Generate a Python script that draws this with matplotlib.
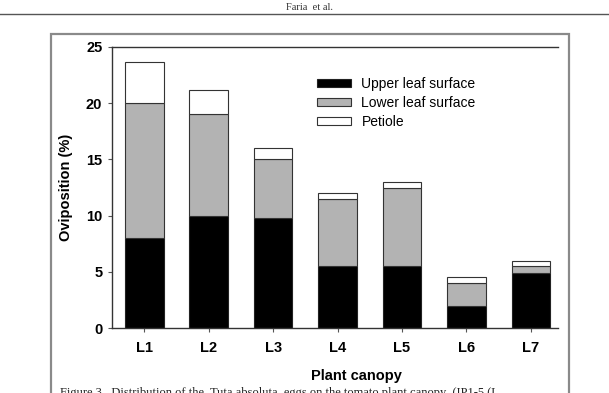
import matplotlib
matplotlib.use('Agg')
import matplotlib.pyplot as plt
from matplotlib.patches import Rectangle, Patch
from matplotlib.lines import Line2D
import numpy as np

# data (percent of eggs per canopy layer)
layers = ['L1', 'L2', 'L3', 'L4', 'L5', 'L6', 'L7']
upper_leaf = [8.0, 10.0, 9.8, 5.5, 5.5, 2.0, 4.9]
lower_leaf = [12.0, 9.0, 5.2, 6.0, 7.0, 2.0, 0.6]
petiole = [3.7, 2.2, 1.0, 0.5, 0.5, 0.5, 0.5]

W, H = 609, 393
plt.rcParams['font.family'] = ['Liberation Sans', 'DejaVu Sans']

fig = plt.figure(figsize=(W / 100, H / 100), dpi=100)

# page header and rule
fig.text(310 / W, 1 - 7 / H, 'Faria  et al.', ha='center', va='center',
         family=['Liberation Serif', 'DejaVu Serif'], fontsize=7.5, color='#333333')
fig.add_artist(Line2D([0, 1], [1 - 14 / H, 1 - 14 / H], color='#555555', lw=1))

# frame around the figure
fig.add_artist(Rectangle((51 / W, -0.05), (569 - 51) / W, (1 - 34 / H) + 0.05,
                         transform=fig.transFigure, fill=False,
                         edgecolor='#8a8a8a', lw=1.6))

ax = fig.add_axes([112 / W, (H - 328) / H, 446 / W, 281 / H])

x = np.arange(1, len(layers) + 1)
up = np.array(upper_leaf)
lo = np.array(lower_leaf)
pe = np.array(petiole)

ax.bar(x, up, width=0.6, color='black', edgecolor='#222222', lw=0.8)
ax.bar(x, lo, width=0.6, bottom=up, color='#b3b3b3', edgecolor='#333333', lw=0.8)
ax.bar(x, pe, width=0.6, bottom=up + lo, color='white', edgecolor='#333333', lw=0.8)

ax.set_xlim(0.5, 7.42)
ax.set_ylim(0, 25)
ax.set_yticks([0, 5, 10, 15, 20, 25])
ax.set_xticks(x)
ax.set_xticklabels(layers)
ax.spines['right'].set_visible(False)
for s in ['left', 'bottom', 'top']:
    ax.spines[s].set_color('#333333')
    ax.spines[s].set_linewidth(1)
ax.tick_params(direction='out', length=3, width=0.8, color='#555555', labelsize=10.5, pad=4)
ax.tick_params(axis='x', pad=6)
for lab in ax.get_xticklabels() + ax.get_yticklabels():
    lab.set_fontweight('bold')

ax.set_ylabel('Oviposition (%)', fontsize=10.5, fontweight='bold', labelpad=9)
ax.set_xlabel('Plant canopy', fontsize=10.5, fontweight='bold')
ax.xaxis.set_label_coords((356 - 112) / 446, -(369 - 328) / 281)

handles = [Patch(facecolor='black', edgecolor='#222222', lw=0.8),
           Patch(facecolor='#b3b3b3', edgecolor='#333333', lw=0.8),
           Patch(facecolor='white', edgecolor='#333333', lw=0.8)]
fig.legend(handles, ['Upper leaf surface', 'Lower leaf surface', 'Petiole'],
           loc='center left', bbox_to_anchor=(310 / W, 1 - 103 / H),
           frameon=False, fontsize=10, borderpad=0, handlelength=2.45,
           handleheight=0.55, handletextpad=0.75, labelspacing=0.35)

# caption, cut off by the page edge as in the scan
fig.text(60 / W, 1 - 387 / H,
         'Figure 3.  Distribution of the  Tuta absoluta  eggs on the tomato plant canopy  (IP1-5 (L',
         ha='left', va='top', family=['Liberation Serif', 'DejaVu Serif'],
         fontsize=9, color='#222222')

fig.savefig('out.png', dpi=100)
